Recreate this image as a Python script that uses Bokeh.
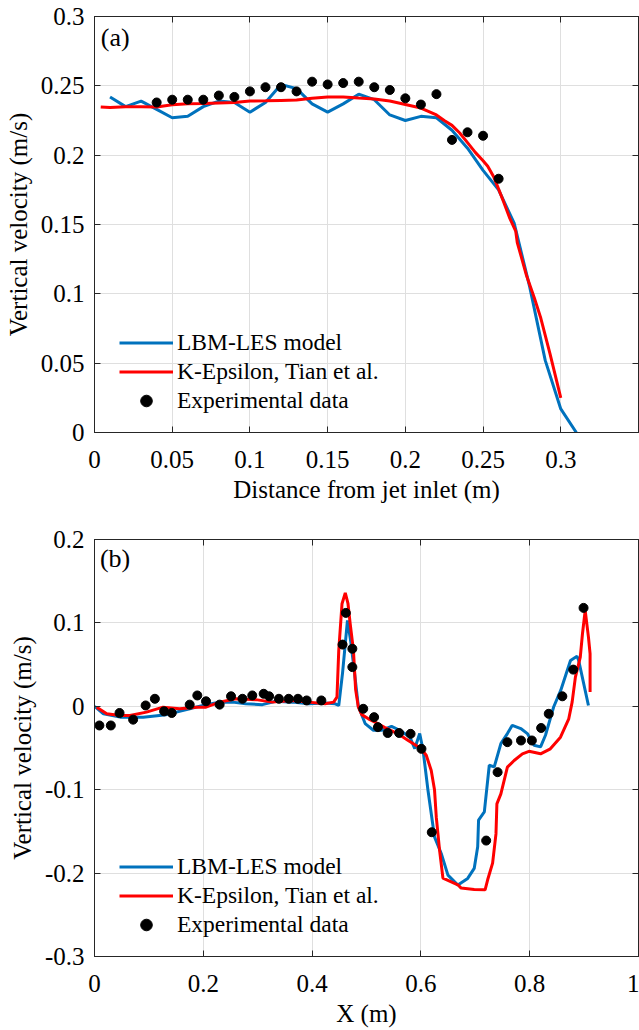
from bokeh.plotting import figure
from bokeh.models import (Legend, LegendItem, LinearAxis, FixedTicker,
                          CustomJSTickFormatter, Label, Range1d)
from bokeh.layouts import column
from bokeh.embed import file_html
from bokeh.resources import INLINE

FONT = "Liberation Serif"
BLUE = "#0072BD"
RED = "#FF0000"
AXC = "#262626"
GRIDC = "#dfdfdf"

# ---------------- Panel (a) data ----------------
a_lbm_x = [0.01, 0.02, 0.03, 0.04, 0.05, 0.06, 0.07, 0.08, 0.09, 0.10, 0.11,
           0.12, 0.13, 0.14, 0.15, 0.16, 0.17, 0.18, 0.19, 0.20, 0.21, 0.22,
           0.23, 0.24, 0.25, 0.26, 0.27, 0.28, 0.29, 0.30, 0.31]
a_lbm_y = [0.242, 0.235, 0.239, 0.233, 0.227, 0.228, 0.235, 0.239, 0.238, 0.231,
           0.238, 0.251, 0.248, 0.237, 0.231, 0.237, 0.244, 0.240, 0.229, 0.225,
           0.228, 0.227, 0.218, 0.205, 0.189, 0.175, 0.151, 0.105, 0.052, 0.017, 0.0]
a_ke_x = [0.004, 0.01, 0.02, 0.03, 0.04, 0.05, 0.06, 0.07, 0.08, 0.09, 0.10,
          0.11, 0.12, 0.13, 0.14, 0.15, 0.16, 0.17, 0.18, 0.19, 0.20, 0.21,
          0.22, 0.225, 0.23, 0.235, 0.24, 0.245, 0.25, 0.253, 0.257, 0.263,
          0.267, 0.271, 0.272, 0.278, 0.283, 0.287, 0.293, 0.30]
a_ke_y = [0.2348, 0.2343, 0.235, 0.235, 0.2347, 0.2363, 0.237, 0.2372, 0.2376,
          0.238, 0.239, 0.2392, 0.2395, 0.2398, 0.241, 0.242, 0.242, 0.2412,
          0.2405, 0.239, 0.2365, 0.234, 0.229, 0.225, 0.2215, 0.216, 0.209,
          0.202, 0.196, 0.192, 0.184, 0.167, 0.155, 0.1453, 0.137, 0.113,
          0.097, 0.083, 0.057, 0.025]
a_exp_x = [0.04, 0.05, 0.06, 0.07, 0.08, 0.09, 0.10, 0.11, 0.12, 0.13, 0.14,
           0.15, 0.16, 0.17, 0.18, 0.19, 0.20, 0.21, 0.22, 0.23, 0.24, 0.25, 0.26]
a_exp_y = [0.238, 0.240, 0.240, 0.240, 0.243, 0.242, 0.246, 0.249, 0.249, 0.246,
           0.253, 0.251, 0.252, 0.253, 0.249, 0.247, 0.241, 0.2365, 0.244,
           0.211, 0.2165, 0.214, 0.183]
a_xticks = [0, 0.05, 0.1, 0.15, 0.2, 0.25, 0.3, 0.35]
a_xlabel_max = 0.3          # last x tick that carries a label
a_yticks = [0, 0.05, 0.1, 0.15, 0.2, 0.25, 0.3]

# ---------------- Panel (b) data ----------------
b_lbm_x = [0.0, 0.0164, 0.047, 0.0895, 0.132, 0.175, 0.205, 0.2296, 0.254, 0.278,
           0.3087, 0.333, 0.3635, 0.394, 0.4243, 0.4426, 0.449, 0.456, 0.465,
           0.471, 0.478, 0.485, 0.4975, 0.5127, 0.528, 0.546, 0.561, 0.5796,
           0.5887, 0.5978, 0.604, 0.613, 0.625, 0.6374, 0.6497, 0.668, 0.686,
           0.698, 0.7044, 0.706, 0.7166, 0.7257, 0.7348, 0.747, 0.759, 0.768,
           0.7836, 0.7957, 0.808, 0.820, 0.829, 0.844, 0.857, 0.875, 0.887,
           0.890, 0.908]
b_lbm_y = [0.0, -0.009, -0.013, -0.013, -0.010, -0.003, 0.002, 0.005, 0.005, 0.003,
           0.002, 0.006, 0.005, 0.003, 0.004, 0.003, 0.001, 0.040, 0.103,
           0.078, 0.040, 0.0, -0.0207, -0.0287, -0.0287, -0.024, -0.0287, -0.0367,
           -0.0507, -0.0327, -0.0527, -0.1006, -0.1565, -0.1765, -0.2024, -0.2144,
           -0.2064, -0.1944, -0.1685, -0.1365, -0.1266, -0.0707, -0.0727, -0.0447,
           -0.0327, -0.0228, -0.0267, -0.0327, -0.0467, -0.0487, -0.0347, -0.0008,
           0.019, 0.055, 0.060, 0.055, 0.001]
b_ke_x = [0.004, 0.0225, 0.047, 0.065, 0.0955, 0.126, 0.1565, 0.187, 0.205, 0.23,
          0.26, 0.2965, 0.327, 0.3635, 0.394, 0.424, 0.4396, 0.4457, 0.449, 0.455,
          0.461, 0.466, 0.47, 0.476, 0.480, 0.485, 0.4913, 0.5035, 0.5156, 0.534,
          0.558, 0.5766, 0.601, 0.610, 0.619, 0.625, 0.6283, 0.6344, 0.6405, 0.668,
          0.674, 0.698, 0.718, 0.7227, 0.7318, 0.738, 0.7397, 0.747, 0.759, 0.7714,
          0.7866, 0.7987, 0.820, 0.838, 0.8566, 0.8718, 0.878, 0.884, 0.893, 0.897,
          0.902, 0.908, 0.911, 0.911]
b_ke_y = [-0.001, -0.009, -0.011, -0.011, -0.007, -0.001, -0.003, -0.001, -0.001,
          0.005, 0.009, 0.008, 0.005, 0.007, 0.005, 0.003, 0.005, 0.011, 0.067,
          0.123, 0.136, 0.123, 0.099, 0.067, 0.020, -0.001, -0.010, -0.015, -0.019,
          -0.0255, -0.033, -0.041, -0.051, -0.059, -0.077, -0.100, -0.133, -0.173,
          -0.206, -0.214, -0.218, -0.2196, -0.220, -0.208, -0.188, -0.153, -0.117,
          -0.105, -0.073, -0.065, -0.057, -0.054, -0.057, -0.051, -0.037, -0.015,
          0.005, 0.035, 0.059, 0.087, 0.115, 0.083, 0.063, 0.017]
b_exp_x = [0.009, 0.030, 0.046, 0.071, 0.094, 0.111, 0.128, 0.142, 0.175, 0.189,
           0.205, 0.230, 0.251, 0.272, 0.290, 0.311, 0.321, 0.339, 0.357, 0.374,
           0.390, 0.417, 0.456, 0.462, 0.474, 0.474, 0.494, 0.514, 0.521, 0.539,
           0.560, 0.581, 0.601, 0.620, 0.720, 0.741, 0.759, 0.784, 0.804, 0.821,
           0.835, 0.860, 0.880, 0.899]
b_exp_y = [-0.023, -0.023, -0.008, -0.016, 0.001, 0.009, -0.006, -0.008, 0.002,
           0.013, 0.006, 0.002, 0.012, 0.009, 0.013, 0.015, 0.012, 0.009, 0.009,
           0.009, 0.007, 0.007, 0.074, 0.112, 0.069, 0.047, -0.003, -0.013, -0.025,
           -0.032, -0.032, -0.033, -0.051, -0.151, -0.161, -0.079, -0.043, -0.041,
           -0.041, -0.026, -0.009, 0.012, 0.044, 0.118]
b_xticks = [0, 0.2, 0.4, 0.6, 0.8, 1.0]
b_xlabel_max = 1.0
b_yticks = [-0.3, -0.2, -0.1, 0, 0.1, 0.2]

series_labels = ["LBM-LES model", "K-Epsilon, Tian et al.", "Experimental data"]


def fmt(limit=None):
    lim = "1e9" if limit is None else repr(limit + 1e-6)
    return CustomJSTickFormatter(code="""
if (tick > %s) { return ''; }
var s = tick.toFixed(2);
s = s.replace(/0+$/, '');
s = s.replace(/\\.$/, '');
if (s == '-0') { s = '0'; }
return s;
""" % lim)


BLANK = CustomJSTickFormatter(code="return '';")

TICK_FS = "25px"
LABEL_FS = "25px"
LEG_FS = "23.5px"


def panel(xr, yr, xticks, xlabmax, yticks, xlabel, tag, tag_pos,
          bx, by, rx, ry, ex, ey, height, mb_top, mb_bottom, mb_left):
    p = figure(width=639, height=height, x_range=Range1d(*xr), y_range=Range1d(*yr),
               output_backend="svg", toolbar_location=None,
               min_border_top=mb_top, min_border_bottom=mb_bottom,
               min_border_left=mb_left, min_border_right=1,
               x_axis_label=xlabel, y_axis_label="Vertical velocity (m/s)")
    p.background_fill_color = "white"
    p.border_fill_color = "white"
    p.outline_line_color = AXC
    p.outline_line_width = 1

    p.xaxis.ticker = FixedTicker(ticks=xticks)
    p.yaxis.ticker = FixedTicker(ticks=yticks)
    p.xaxis.formatter = fmt(xlabmax)
    p.yaxis.formatter = fmt()
    for ax in (p.xaxis[0], p.yaxis[0]):
        ax.major_label_text_font = FONT
        ax.major_label_text_font_size = TICK_FS
        ax.major_label_text_color = "black"
        ax.axis_label_text_font = FONT
        ax.axis_label_text_font_size = LABEL_FS
        ax.axis_label_text_font_style = "normal"
        ax.axis_label_text_color = "black"
        ax.axis_line_color = AXC
        ax.major_tick_line_color = AXC
        ax.major_tick_in = 6
        ax.major_tick_out = 0
        ax.minor_tick_line_color = None
    p.xaxis.major_label_standoff = 18
    p.xaxis.axis_label_standoff = 5
    p.yaxis.major_label_standoff = 10
    p.yaxis.axis_label_standoff = 6

    # mirrored ticks on top and right (no labels)
    for loc, tks in (("above", xticks), ("right", yticks)):
        ax = LinearAxis(ticker=FixedTicker(ticks=tks), formatter=BLANK,
                        major_label_text_font_size="1px",
                        axis_line_color=AXC, major_tick_line_color=AXC,
                        major_tick_in=6, major_tick_out=0,
                        minor_tick_line_color=None, major_label_standoff=0)
        p.add_layout(ax, loc)

    p.xgrid.ticker = FixedTicker(ticks=xticks)
    p.ygrid.ticker = FixedTicker(ticks=yticks)
    p.grid.grid_line_color = GRIDC
    p.grid.grid_line_width = 1

    rb = p.line(bx, by, line_color=BLUE, line_width=3)
    rr = p.line(rx, ry, line_color=RED, line_width=3)
    rd = p.scatter(ex, ey, size=9, fill_color="black", line_color="black")

    leg = Legend(items=[LegendItem(label=series_labels[0], renderers=[rb]),
                        LegendItem(label=series_labels[1], renderers=[rr]),
                        LegendItem(label=series_labels[2], renderers=[rd])],
                 location=(25, 17), padding=0, margin=0, spacing=0,
                 glyph_width=54, glyph_height=29, label_height=29,
                 label_standoff=4, label_text_font=FONT,
                 label_text_font_size=LEG_FS, label_text_color="black",
                 border_line_color=None, background_fill_alpha=0)
    p.add_layout(leg)

    p.add_layout(Label(x=tag_pos[0], y=tag_pos[1], text=tag, text_font=FONT,
                       text_font_size="26px", text_baseline="top", text_color="black"))
    return p


pa = panel((0, 0.35), (0, 0.3), a_xticks, a_xlabel_max, a_yticks,
           "Distance from jet inlet (m)", "(a)", (0.004, 0.295),
           a_lbm_x, a_lbm_y, a_ke_x, a_ke_y, a_exp_x, a_exp_y,
           height=505, mb_top=16, mb_bottom=73, mb_left=94)
pb = panel((0, 1.0), (-0.3, 0.2), b_xticks, b_xlabel_max, b_yticks,
           "X (m)", "(b)", (0.01, 0.195),
           b_lbm_x, b_lbm_y, b_ke_x, b_ke_y, b_exp_x, b_exp_y,
           height=525, mb_top=34, mb_bottom=74, mb_left=91)

layout = column(pa, pb, spacing=0)
open("out.html", "w").write(file_html(layout, INLINE))
